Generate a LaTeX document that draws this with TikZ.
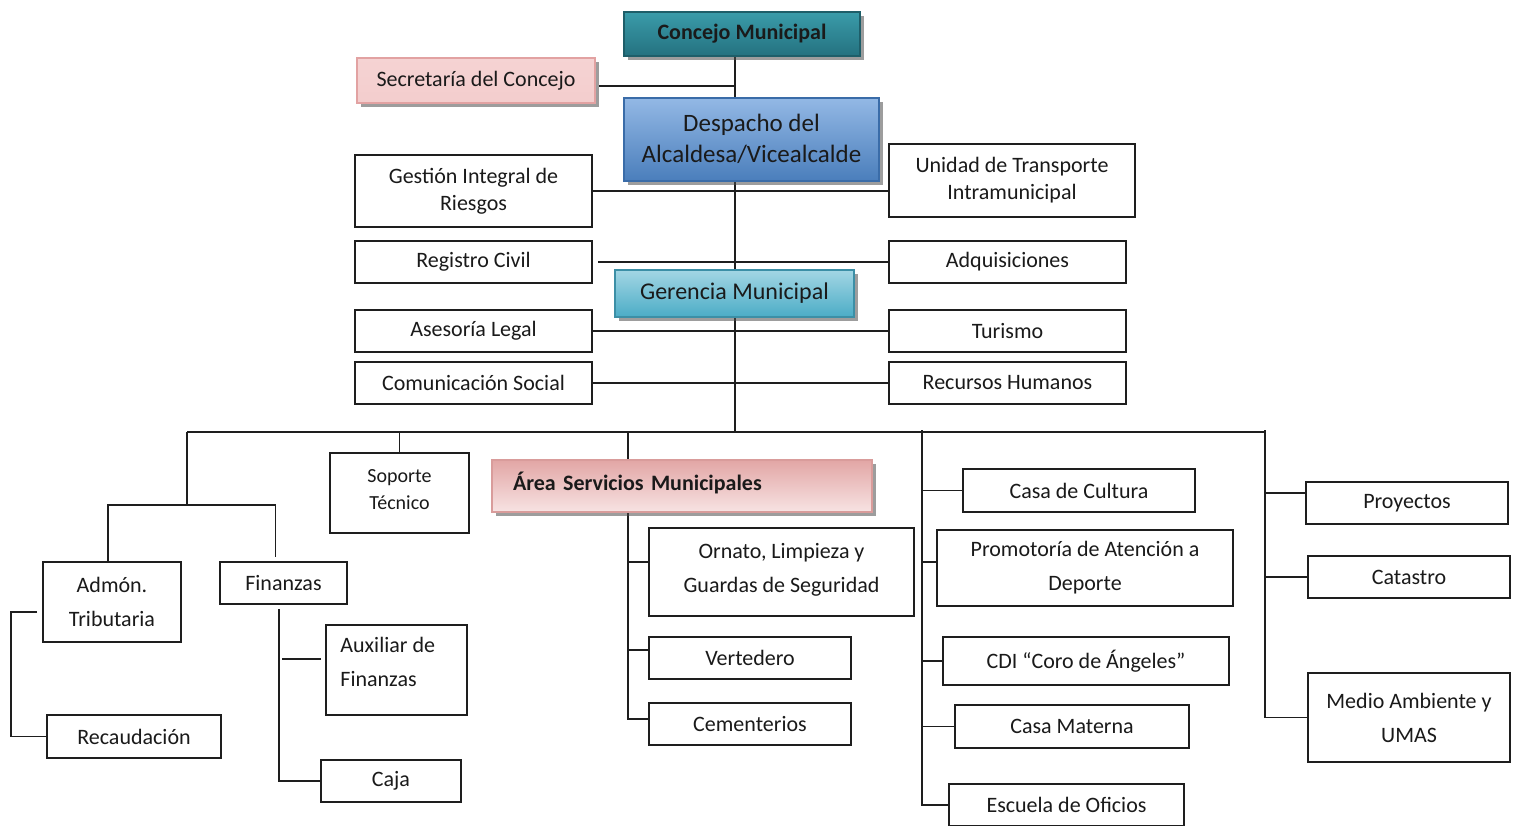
\documentclass[tikz,border=0pt]{standalone}
\usepackage{fontspec}
\setmainfont{Carlito}
\usetikzlibrary{shadows}
\pgfdeclarelayer{links}
\pgfsetlayers{links,main}

\definecolor{inkline}{HTML}{1E1E1E}
\definecolor{inktext}{HTML}{1A1A1A}
\definecolor{tealtop}{HTML}{3A9CAA}
\definecolor{tealbot}{HTML}{24717F}
\definecolor{tealedge}{HTML}{1E5E69}
\definecolor{rosetop}{HTML}{F5D3D3}
\definecolor{rosemid}{HTML}{FDF4F4}
\definecolor{rosebot}{HTML}{F3CDCD}
\definecolor{roseedge}{HTML}{E2A2A2}
\definecolor{bluetop}{HTML}{93B8E5}
\definecolor{bluebot}{HTML}{4A7EBB}
\definecolor{blueedge}{HTML}{3A6CA8}
\definecolor{cyantop}{HTML}{A3D6E4}
\definecolor{cyanbot}{HTML}{4BACC6}
\definecolor{cyanedge}{HTML}{3C8FA6}
\definecolor{areatop}{HTML}{E2A6A5}
\definecolor{areabot}{HTML}{F7E3E3}
\definecolor{areaedge}{HTML}{D99C9B}

\tikzset{
  unit/.style={draw=inkline, line width=1pt, fill=white, text=inktext,
    align=center, inner sep=0pt, font=\fontsize{11}{13.5}\selectfont},
  tall/.style={font=\fontsize{11}{17}\selectfont},
  head/.style={line width=0.8pt, align=center, inner sep=0pt, text=inktext,
    drop shadow={shadow xshift=2pt, shadow yshift=-2pt, fill=black!70, opacity=0.55}},
  link/.style={line width=0.9pt, draw=inkline},
}

\begin{document}
\begin{tikzpicture}[x=0.5pt, y=-0.5pt]
\useasboundingbox (0,0) rectangle (1520,825);
\clip (0,0) rectangle (1520,825);

% ---- governing bodies ----
\node[head, draw=tealedge, top color=tealtop, bottom color=tealbot,
  minimum width=118pt, minimum height=22pt, font=\fontsize{11}{13}\selectfont\bfseries]
  (con) at (742,34) {Concejo Municipal};
\node[head, draw=roseedge, top color=rosetop, middle color=rosemid, bottom color=rosebot,
  minimum width=119pt, minimum height=22.5pt, font=\fontsize{11}{13}\selectfont]
  (sec) at (476,80.5) {Secretaría del Concejo};
\node[head, draw=blueedge, top color=bluetop, bottom color=bluebot,
  minimum width=127.5pt, minimum height=41.5pt, font=\fontsize{12.5}{15.5}\selectfont]
  (des) at (751.5,139.5) {\raisebox{1pt}{Despacho del}\\\raisebox{1pt}{Alcaldesa/Vicealcalde}};
\node[head, draw=cyanedge, top color=cyantop, bottom color=cyanbot,
  minimum width=119.5pt, minimum height=23.5pt, font=\fontsize{12}{14}\selectfont]
  (ger) at (734.5,293.5) {Gerencia Municipal};

% ---- staff units beside the spine ----
\node[unit, minimum width=118.5pt, minimum height=36pt] (ges) at (473.5,191) {Gestión Integral de\\Riesgos};
\node[unit, minimum width=123pt, minimum height=36.5pt] (uni) at (1012,180.5) {Unidad de Transporte\\Intramunicipal};
\node[unit, minimum width=118.5pt, minimum height=21pt] (reg) at (473.5,262) {Registro Civil};
\node[unit, minimum width=118.5pt, minimum height=21pt] (adq) at (1007.5,262) {Adquisiciones};
\node[unit, minimum width=118.5pt, minimum height=21pt] (ase) at (473.5,331) {Asesoría Legal};
\node[unit, minimum width=118.5pt, minimum height=21pt] (tur) at (1007.5,331) {Turismo};
\node[unit, minimum width=118.5pt, minimum height=21pt] (com) at (473.5,383) {Comunicación Social};
\node[unit, minimum width=118.5pt, minimum height=21pt] (rrhh) at (1007.5,383) {Recursos Humanos};

% ---- lower left: finance ----
\node[unit, font=\fontsize{10}{13.5}\selectfont, minimum width=69.5pt, minimum height=40pt]
  (sop) at (399.5,493) {\raisebox{3pt}{Soporte}\\\raisebox{3pt}{Técnico}};
\node[unit, tall, minimum width=69pt, minimum height=40pt] (adm) at (112,602) {Admón.\\Tributaria};
\node[unit, minimum width=63.5pt, minimum height=21pt] (fin) at (283.5,583) {Finanzas};
\node[unit, minimum width=87pt, minimum height=21.5pt] (rec) at (134,736.5) {Recaudación};
\node[unit, minimum width=70.5pt, minimum height=45pt] (aux) at (396.5,670) {};
\node[tall, text=inktext, align=left, inner sep=0pt, anchor=north west]
  (auxt) at ([xshift=7.5pt,yshift=-6.5pt]aux.north west) {Auxiliar de\\Finanzas};
\node[unit, minimum width=70pt, minimum height=21pt] (caja) at (391,781) {Caja};

% ---- municipal services ----
\node[head, draw=areaedge, top color=areatop, bottom color=areabot,
  minimum width=190pt, minimum height=26pt, text width=169pt, inner xsep=10.5pt, align=left,
  font=\fontsize{11}{13}\selectfont\bfseries]
  (area) at (682,486) {\raisebox{5pt}{Área Servicios Municipales}};
\node[unit, tall, minimum width=132.5pt, minimum height=44pt] (orn) at (781.5,572) {\raisebox{4pt}{Ornato, Limpieza y}\\\raisebox{4pt}{Guardas de Seguridad}};
\node[unit, minimum width=101pt, minimum height=21pt] (ver) at (750,658) {Vertedero};
\node[unit, minimum width=101pt, minimum height=21pt] (cem) at (750,724) {Cementerios};

% ---- social services ----
\node[unit, minimum width=116pt, minimum height=21.5pt] (cul) at (1079,490.5) {Casa de Cultura};
\node[unit, tall, minimum width=148pt, minimum height=38pt] (pro) at (1085,568) {Promotoría de Atención a\\Deporte};
\node[unit, minimum width=143pt, minimum height=24pt] (cdi) at (1086,661) {CDI “Coro de Ángeles”};
\node[unit, minimum width=117pt, minimum height=21.5pt] (mat) at (1072,726.5) {Casa Materna};
\node[unit, minimum width=117.5pt, minimum height=21pt] (esc) at (1066.5,805) {Escuela de Oficios};

% ---- planning and environment ----
\node[unit, minimum width=101pt, minimum height=21pt] (proy) at (1407,503) {Proyectos};
\node[unit, minimum width=101pt, minimum height=21pt] (cat) at (1409,577) {Catastro};
\node[unit, tall, minimum width=101pt, minimum height=44.5pt] (med) at (1409,717.5) {Medio Ambiente y\\UMAS};

% ---- rail points ----
\coordinate (top) at ([xshift=-3.5pt]con.south);
\coordinate (busL) at (187,432);
\coordinate (busR) at (1265,432);
\coordinate (fork) at (187,505);
\coordinate (arail) at (628,432);
\coordinate (srail) at (922,432);
\coordinate (trail) at (11,612);
\coordinate (frail) at (279,609);
\coordinate (auxstub) at ([xshift=-2pt,yshift=5.5pt]aux.west);

\begin{pgfonlayer}{links}
  % spine and top branches
  \draw[link] (top) -- (top |- busL);
  \draw[link] ([xshift=1.5pt,yshift=-2.75pt]sec.east) -- ([yshift=-2.75pt]sec.east -| top);
  \draw[link] (ges.east) -- (ges.east -| uni.west);
  \draw[link] ([xshift=2.5pt]reg.east) -- (adq.west);
  \draw[link] (ase.east) -- (tur.west);
  \draw[link] (com.east) -- (rrhh.west);
  % main bus
  \draw[link] (busL) -- (busR);
  % finance branch
  \draw[link] (busL) -- (fork);
  \draw[link] ([xshift=-2pt]adm.north) -- ([xshift=-2pt]adm.north |- fork) -- ([xshift=-4pt]fin.north |- fork) -- ([xshift=-4pt,yshift=2pt]fin.north);
  \draw[link] (sop.north) -- (sop.north |- busL);
  \draw[link] ([xshift=-2.5pt,yshift=-5pt]adm.west) -- (trail) |- (rec.west);
  \draw[link] (frail) |- (caja.west);
  \draw[link] (auxstub) -- ([xshift=1.5pt]frail |- auxstub);
  % services branch
  \draw[link] (arail) |- ([yshift=2.5pt]cem.west);
  \draw[link] ([yshift=5pt]orn.west) -- ([yshift=5pt]orn.west -| arail);
  \draw[link] ([yshift=4pt]ver.west) -- ([yshift=4pt]ver.west -| arail);
  % social branch
  \draw[link] ([yshift=1pt]srail) |- (esc.west);
  \draw[link] (cul.west) -- (cul.west -| srail);
  \draw[link] ([yshift=3pt]pro.west) -- ([yshift=3pt]pro.west -| srail);
  \draw[link] (cdi.west) -- (cdi.west -| srail);
  \draw[link] (mat.west) -- (mat.west -| srail);
  % planning branch
  \draw[link] ([yshift=1pt]busR) |- (med.west);
  \draw[link] ([yshift=5pt]proy.west) -- ([yshift=5pt]proy.west -| busR);
  \draw[link] (cat.west) -- (cat.west -| busR);
\end{pgfonlayer}
\end{tikzpicture}
\end{document}
